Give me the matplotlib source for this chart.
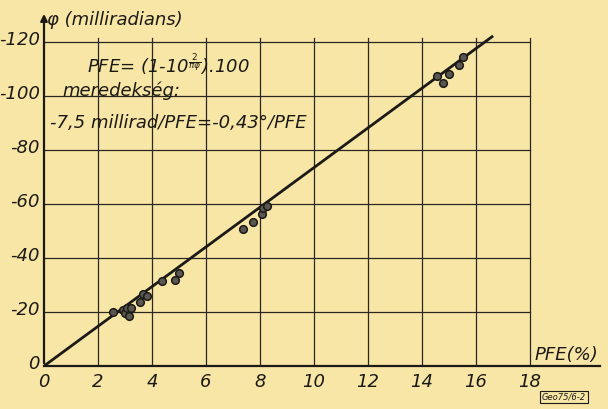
import matplotlib.pyplot as plt
from matplotlib.transforms import ScaledTranslation

# measured points: PFE (%) vs phi (milliradians)
pfe = [2.57, 2.91, 3.0, 3.06, 3.16, 3.21, 3.56, 3.68, 3.83, 4.39, 4.87, 5.01,
       7.38, 7.73, 8.06, 8.12, 8.28, 14.57, 14.77, 15.0, 15.36, 15.53]
phi = [-19.9, -20.7, -19.7, -21.4, -18.5, -21.4, -23.8, -26.5, -25.9, -31.6, -31.9, -34.6,
       -50.6, -53.4, -56.5, -58.4, -59.3, -107.4, -104.7, -108.1, -111.5, -114.6]

# fitted line
fit_pfe = [0, 16.6]
fit_phi = [0, -122]

x_ticks = [0, 2, 4, 6, 8, 10, 12, 14, 16, 18]
y_ticks = [0, -20, -40, -60, -80, -100, -120]

paper = '#f8e6a6'
ink = '#1c1a16'

fig = plt.figure(figsize=(6.08, 4.09), dpi=100)
fig.patch.set_facecolor(paper)
ax = fig.add_axes([44 / 608, 43 / 409, 556 / 608, 356 / 409])
ax.set_facecolor(paper)
ax.set_xlim(0, 20.6)
ax.set_ylim(0, -131.9)

# grid
for x in x_ticks[1:]:
    ax.plot([x, x], [0, -121.5], color='#2a2620', lw=0.9, zorder=1)
for y in y_ticks[1:]:
    ax.plot([0, 18], [y, y], color='#2a2620', lw=0.9, zorder=1)

ax.plot(fit_pfe, fit_phi, color=ink, lw=2.0, zorder=2)
ax.plot(pfe, phi, 'o', ms=5.5, mfc='#5a5650', mec=ink, mew=1.1, zorder=3)

for s in ['top', 'right', 'left']:
    ax.spines[s].set_visible(False)
ax.spines['bottom'].set_color(ink)
ax.spines['bottom'].set_linewidth(1.6)
ax.annotate('', xy=(0, -131.5), xytext=(0, 0),
            arrowprops=dict(arrowstyle='-|>', color=ink, lw=1.6, mutation_scale=10))

ax.set_xticks(x_ticks)
ax.set_yticks(y_ticks)
ax.set_xticklabels([str(v) for v in x_ticks], fontstyle='italic', fontsize=13, color=ink)
ax.set_yticklabels([str(v) for v in y_ticks], fontstyle='italic', fontsize=13, color=ink)
ax.tick_params(axis='x', length=0, pad=5)
ax.tick_params(axis='y', length=0, pad=3)
# lettering sits a little above the grid lines, as on the original sheet
shift = ScaledTranslation(0, 4 / 100, fig.dpi_scale_trans)
for lab in ax.get_yticklabels():
    lab.set_transform(lab.get_transform() + shift)

def px(x, y):
    return x / 608, 1 - y / 409

fig.text(*px(47, 20), 'φ (milliradians)', fontstyle='italic', fontsize=13, color=ink, va='center')
fig.text(*px(87, 64), r'PFE= (1-10$^{\frac{2}{\pi\varphi}}$).100', fontstyle='italic',
         fontsize=13, color=ink, va='center')
fig.text(*px(62, 91), 'meredekség:', fontstyle='italic', fontsize=13, color=ink, va='center')
fig.text(*px(50, 123), '-7,5 millirad/PFE=-0,43°/PFE', fontstyle='italic', fontsize=13,
         color=ink, va='center')
fig.text(*px(535, 355), 'PFE(%)', fontstyle='italic', fontsize=13, color=ink, va='center')
fig.text(*px(542, 397), 'Geo75/6-2', fontstyle='italic', fontsize=6, color=ink, va='center',
         bbox=dict(boxstyle='square,pad=0.2', fc=paper, ec=ink, lw=0.8))

fig.savefig('out.png', dpi=100, facecolor=paper)
